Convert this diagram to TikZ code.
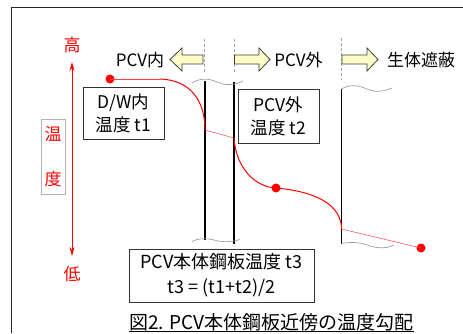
\documentclass[tikz,border=0pt]{standalone}
\usepackage{fontspec}
\newfontfamily\cjk{Noto Sans CJK JP}
\usetikzlibrary{arrows.meta}
\begin{document}
\begin{tikzpicture}[x=1pt,y=-1pt,
  frameline/.style={black!85, line width=0.9pt},
  wall/.style={black, line width=1.4pt},
  wavy/.style={gray!75, line width=0.7pt},
  guide/.style={gray!70, line width=0.6pt, dash pattern=on 3pt off 2pt},
  blockarrow/.style={draw=gray!50!black, fill=yellow!22, line width=0.8pt, line join=miter},
  curve/.style={red, line width=1pt},
  thincurve/.style={red!75, line width=0.5pt},
  dot/.style={circle, fill=red, inner sep=0pt, minimum size=9pt},
  label/.style={font=\cjk\fontsize{17}{21}\selectfont, inner sep=0pt},
  redlabel/.style={label, text=red},
  infobox/.style={draw=gray!40!black, fill=white, line width=0.8pt, align=center,
    font=\cjk\fontsize{17.5}{23}\selectfont, inner sep=0pt},
]
\useasboundingbox (0,0) rectangle (463,333);
% frame
\coordinate (fr) at (463,7);
\coordinate (fc) at (11.5,7);
\coordinate (fb) at (11.5,333);
\draw[frameline] (fr) -- (fc) -- (fb);

% temperature axis
\node[redlabel] (high) at (72,45) {高};
\node[redlabel] (low) at (72,274) {低};
\coordinate (atop) at (72,62);
\coordinate (abot) at (72,256);
\draw[red, line width=1pt, {Stealth[length=9pt,width=5pt]}-{Stealth[length=9pt,width=5pt]}] (atop) -- (abot);
\node[draw=gray!60, text=red, minimum width=24pt, minimum height=75pt, inner sep=0pt,
  align=center, font=\cjk\fontsize{17}{45}\selectfont] (ondo) at (53,156.5) {温\\度};

% guides (dashed)
\coordinate (g1a) at (204,39); \coordinate (g1b) at (204,72);
\coordinate (g2a) at (234,39); \coordinate (g2b) at (234,73);
\coordinate (g3a) at (341.5,38); \coordinate (g3b) at (341.5,80);
\draw[guide] (g1a) -- (g1b);
\draw[guide] (g2a) -- (g2b);
\draw[guide] (g3a) -- (g3b);

% block arrows
\draw[blockarrow] (170,59.5) -- (182,48) -- (182,55) -- (203,55) -- (203,64) -- (182,64) -- (182,71) -- cycle;
\draw[blockarrow] (270,59.5) -- (259,48) -- (259,55) -- (234.5,55) -- (234.5,64) -- (259,64) -- (259,71) -- cycle;
\draw[blockarrow] (378,59.5) -- (367,48) -- (367,55) -- (342,55) -- (342,64) -- (367,64) -- (367,71) -- cycle;
\node[label] (pcvin) at (140,60) {PCV内};
\node[label] (pcvout) at (298.5,60) {PCV外};
\node[label, anchor=west] (shield) at (387,60) {生体遮蔽};

% walls
\coordinate (w1a) at (205,81); \coordinate (w1b) at (205,240);
\coordinate (w2a) at (234,82); \coordinate (w2b) at (234,243.5);
\coordinate (w3a) at (341.5,89); \coordinate (w3b) at (341.5,244);
\draw[wall] (w1a) -- (w1b);
\draw[wall] (w2a) -- (w2b);
\draw[wall] (w3a) -- (w3b);

% wavy break lines
\draw[wavy] (192,83) .. controls (200,78) and (208,78) .. (217,82) .. controls (226,86) and (235,85) .. (243,81);
\draw[wavy] (192,241.5) .. controls (199,238) and (206,238) .. (214,240) .. controls (222,242.5) and (232,242) .. (240,239.5);
\draw[wavy] (341.5,89) .. controls (350,84) and (358,85) .. (367,89) .. controls (376,93) and (385,91) .. (392,88);
\draw[wavy] (341.5,243.5) .. controls (354,241) and (362,243) .. (370,246) .. controls (380,249) and (388,248) .. (394,245);

% temperature curve
\node[dot] (d1) at (110,79) {};
\node[dot] (d2) at (276,188) {};
\node[dot] (d3) at (421,248) {};
\coordinate (j1) at (205,130);
\coordinate (j2) at (234,138);
\coordinate (j3) at (341.5,229);
\draw[thincurve] (d1.center) -- (160,79);
\draw[curve] (160,79) .. controls (190,80) and (205,100) .. (j1);
\draw[thincurve] (j1) -- (j2);
\draw[curve] (j2) .. controls (236,168) and (255,187) .. (d2.center);
\draw[curve] (d2.center) .. controls (300,190) and (341.5,198) .. (j3);
\draw[thincurve] (j3) -- (d3.center);

% info boxes
\node[infobox, minimum width=81pt, minimum height=52pt] (b1) at (123.5,113) {D/W内\\温度 t1};
\node[infobox, minimum width=81pt, minimum height=54pt] (b2) at (278.5,116) {PCV外\\温度 t2};
\node[infobox, minimum width=185pt, minimum height=53pt, font=\cjk\fontsize{18}{25}\selectfont] (b3) at (221.5,275.5) {PCV本体鋼板温度 t3\\t3 = (t1+t2)/2};

% caption
\node[anchor=base west, inner sep=0pt, font=\cjk\fontsize{19}{23}\selectfont] (cap) at (129,329.5) {図2. PCV本体鋼板近傍の温度勾配};
\draw[black, line width=0.9pt] ([yshift=-2pt]cap.base west) -- ([yshift=-2pt]cap.base east);
\end{tikzpicture}
\end{document}
